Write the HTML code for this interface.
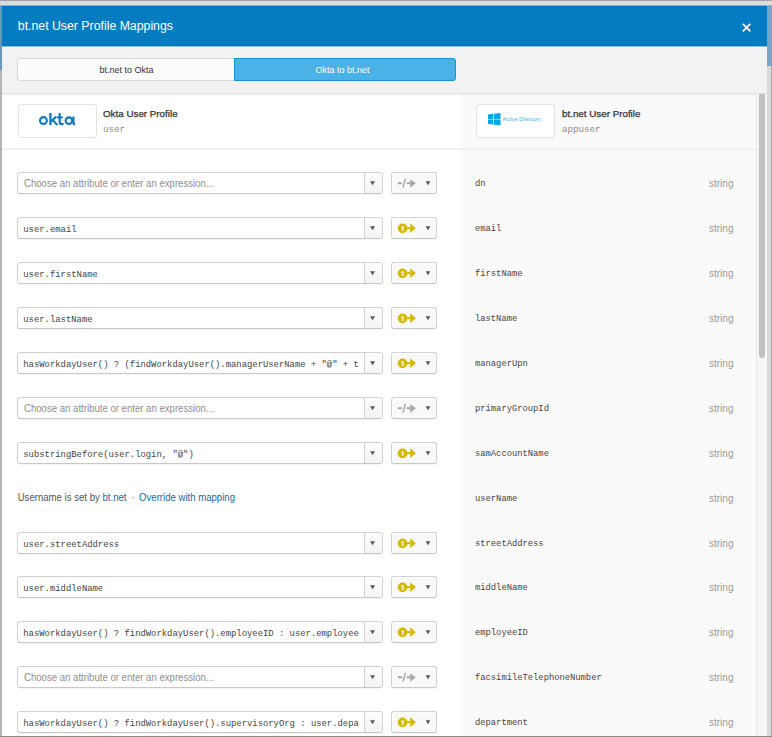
<!DOCTYPE html>
<html><head><meta charset="utf-8"><style>
*{margin:0;padding:0;box-sizing:border-box}
html,body{width:772px;height:737px;overflow:hidden}
body{position:relative;background:#d6d6d6;font-family:"Liberation Sans",sans-serif;}
.topstrip{position:absolute;left:0;top:0;width:772px;height:6px;background:#dcdcdc;border-top:1px solid #a4a4a4;border-bottom:1px solid #b4a9a1}
.lstrip{position:absolute;left:0;top:6px;width:2px;height:731px;background:linear-gradient(#6b98b8 0,#6b98b8 64px,#b4b4b4 64px)}
.rstrip{position:absolute;left:767px;top:6px;width:5px;height:731px;background:linear-gradient(#79a6c6 0,#79a6c6 60px,#d8d8d8 60px)}
.rstrip:after{content:"";position:absolute;right:0;top:60px;width:1px;bottom:0;background:#a8a8a8}
.bot{position:absolute;left:0;top:736px;width:772px;height:1px;background:#8a8a8a}
.modal{position:absolute;left:2px;top:6px;width:765px;height:730px;background:#fff;overflow:hidden}
.hdr{position:absolute;left:0;top:0;width:765px;height:40px;background:#047cc1;border-top:1px solid #0473ba;border-bottom:1px solid #0473ba}
.hl{position:absolute;left:0;top:40px;width:765px;height:2px;background:linear-gradient(#8fc3e3 0,#8fc3e3 1px,#fdfcfb 1px);z-index:3}
.title{position:absolute;left:15.8px;top:11px;color:#fff;font-size:12.3px;line-height:16px;white-space:nowrap}
.close{position:absolute;left:740px;top:16px}
.tabbar{position:absolute;z-index:2;left:0;top:40px;width:765px;height:48px;background:#f2f2f2;border-bottom:1px solid #dedede}
.tsh{position:absolute;z-index:2;left:0;top:88px;width:754px;height:2px;background:rgba(0,0,0,.022)}
.tab{position:absolute;top:12px;height:23px;font-size:9px;line-height:23px;text-align:center;white-space:nowrap}
.tab1{left:15px;width:218px;background:#fbfbfb;border:1px solid #d9d9d9;border-right:none;border-radius:3px 0 0 3px;color:#333}
.tab2{left:232px;width:222px;background:#4ab2e7;border:1px solid #1e8fd0;border-radius:0 3px 3px 0;color:#fff;padding-right:5px}
.rcol{position:absolute;left:459px;top:88px;width:295px;height:642px;background:#fafafa}
.sep{position:absolute;left:0;top:142px;width:754px;height:2px;background:#f0f0f0}
.sb{position:absolute;left:754px;top:89px;width:11px;height:641px;background:#f6f6f6;border-left:1px solid #e6e6e6}
.thumb{position:absolute;left:757px;top:84px;width:6px;height:268px;background:#c1c1c1;border-radius:3px}
.logo{position:absolute;top:98px;width:79px;height:34px;background:#fff;border:1px solid #e3e3e3;border-radius:3px}
.pname{position:absolute;top:101px;font-size:9.8px;color:#333;-webkit-text-stroke:0.25px #333;white-space:nowrap;line-height:14px}
.pvar{position:absolute;top:116.7px;font-family:"Liberation Mono",monospace;font-size:9.2px;color:#8a8a8a;line-height:14px}
.inp{position:absolute;left:15px;width:366px;height:22px;border:1px solid #d2d2d2;border-bottom-color:#c8c8c8;border-radius:3px;background:#fff;margin-top:-6px;box-shadow:0 1px 0 rgba(0,0,0,.04)}
.txt{position:absolute;left:5.3px;top:1px;width:336px;height:20px;line-height:20px;overflow:hidden;white-space:nowrap}
.ph{font-size:9.6px;color:#8e8e8e;padding-left:0.7px;transform:scaleY(1.07);transform-origin:0 13.33px}
.val{margin-top:1px;font-family:"Liberation Mono",monospace;font-size:8.9px;color:#444}
.dd{position:absolute;left:346px;top:0;width:18px;height:20px;border-left:1px solid #d2d2d2;border-radius:0 2px 2px 0;background:linear-gradient(#fdfdfd,#f3f3f3)}
.tri{position:absolute;width:0;height:0;border-left:2.5px solid transparent;border-right:2.5px solid transparent;border-top:3.8px solid #5e5e5e}
.dd .tri{left:6px;top:8.3px}
.push{position:absolute;left:389px;width:46px;height:22px;border:1px solid #d2d2d2;border-bottom-color:#c8c8c8;border-radius:3px;background:#f9f9f9;margin-top:-6px;box-shadow:inset 1px 1px 0 #fff,0 1px 0 rgba(0,0,0,.04)}
.push .ico{position:absolute;left:-1px;top:-1px}
.t2{left:33.7px;top:8.5px}
.attr{position:absolute;left:473px;margin-top:1px;font-family:"Liberation Mono",monospace;font-size:8.8px;color:#444;line-height:10px}
.typ{position:absolute;left:707px;margin-top:0px;font-size:10px;color:#9a9a9a;line-height:12px}
.uname{position:absolute;left:15.7px;margin-top:-0.5px;font-size:9.6px;color:#555;line-height:12px;white-space:nowrap;transform:scaleY(1.07);transform-origin:0 9.33px}
.uname a{color:#1a67a8}
.dot{color:#888;padding:0 2px}
</style></head><body>
<div class="topstrip"></div>
<div class="lstrip"></div>
<div class="rstrip"></div>
<div class="modal">
 <div class="hdr"><div class="title">bt.net User Profile Mappings</div>
  <svg class="close" width="10" height="10" viewBox="0 0 10 10"><path d="M0.8 0.8L8.3 8.3M8.3 0.8L0.8 8.3" stroke="#fff" stroke-width="1.7"/></svg>
 </div>
 <div class="hl"></div><div class="tsh"></div><div class="tabbar"><div class="tab tab1">bt.net to Okta</div><div class="tab tab2">Okta to bt.net</div></div>
 <div class="rcol"></div>
 <div class="sep"></div>
 <div class="logo" style="left:16px"><svg width="79" height="34" viewBox="18 104 79 34" style="position:absolute;left:-1px;top:-1px"><g fill="none" stroke="#0b79c1" stroke-width="2.1"><circle cx="43.45" cy="120.6" r="3.45"/><path d="M50.4 113V125.1" stroke-width="2.3"/><path d="M51 121.4L56.3 116.5M52.4 119.8L57.4 125.1"/><path d="M59.65 113V122Q59.65 124.1 61.8 124.1H63.6" stroke-width="2.2"/><path d="M57 117.4H63.1" stroke-width="1.8"/><circle cx="68.95" cy="120.65" r="3.3" stroke-width="2.2"/><path d="M73.45 116.4V123.1Q73.45 124.3 74.9 124.6" stroke-width="2.2"/></g></svg></div>
 <div class="pname" style="left:101px">Okta User Profile</div>
 <div class="pvar" style="left:101px">user</div>
 <div class="logo" style="left:474px"><svg width="79" height="34" viewBox="476 104 79 34" style="position:absolute;left:-1px;top:-1px"><path d="M488 114.4L493.2 113.8V118.9H488z M493.9 113.7L500.5 113V118.9H493.9z M488 119.6H493.2V124.6L488 124z M493.9 119.6H500.5V125.3L493.9 124.7z" fill="#08a5e8"/><text x="502.6" y="121.3" font-family="Liberation Sans" font-size="5.5" fill="#3db5ea">Active Directory</text></svg></div>
 <div class="pname" style="left:560px">bt.net User Profile</div>
 <div class="pvar" style="left:560px">appuser</div>
 <div class="body">
<div class="inp" style="top:172.0px"><div class="txt ph">Choose an attribute or enter an expression...</div><div class="dd"><svg width="18" height="20" style="position:absolute;left:-1px;top:0"><path d="M6 8.2H11L8.5 12.3z" fill="#585858"/></svg></div></div>
<div class="push" style="top:172.0px"><svg class="ico" width="46" height="22" viewBox="0 0 46 22"><g fill="#a9a9a9"><rect x="6.7" y="10.2" width="4.2" height="2"/><rect x="15.6" y="10.2" width="4" height="2"/><path d="M19.2 7.2L24.9 11.3L19.2 15.8z"/></g><path d="M14.4 6.9L11.9 15.6" stroke="#a9a9a9" stroke-width="1.5"/><path d="M34.6 9.2H39.4L37 13.3z" fill="#585858"/></svg></div>
<div class="attr" style="top:172.0px">dn</div><div class="typ" style="top:172.0px">string</div>
<div class="inp" style="top:216.94px"><div class="txt val">user.email</div><div class="dd"><svg width="18" height="20" style="position:absolute;left:-1px;top:0"><path d="M6 8.2H11L8.5 12.3z" fill="#585858"/></svg></div></div>
<div class="push" style="top:216.94px"><svg class="ico" width="46" height="22" viewBox="0 0 46 22"><g fill="#d5b800"><circle cx="11.55" cy="11.35" r="4.85"/><rect x="15.5" y="10.1" width="4.1" height="2"/><path d="M19.2 6.2L24.9 11.2L19.2 16z"/></g><path d="M11.25 14.05V9.35H12.55V14.05z M10.05 10.75L11.25 9.35V10.55L10.25 11.35z" fill="#fff"/><path d="M34.6 9.2H39.4L37 13.3z" fill="#585858"/></svg></div>
<div class="attr" style="top:216.94px">email</div><div class="typ" style="top:216.94px">string</div>
<div class="inp" style="top:261.88px"><div class="txt val">user.firstName</div><div class="dd"><svg width="18" height="20" style="position:absolute;left:-1px;top:0"><path d="M6 8.2H11L8.5 12.3z" fill="#585858"/></svg></div></div>
<div class="push" style="top:261.88px"><svg class="ico" width="46" height="22" viewBox="0 0 46 22"><g fill="#d5b800"><circle cx="11.55" cy="11.35" r="4.85"/><rect x="15.5" y="10.1" width="4.1" height="2"/><path d="M19.2 6.2L24.9 11.2L19.2 16z"/></g><path d="M11.25 14.05V9.35H12.55V14.05z M10.05 10.75L11.25 9.35V10.55L10.25 11.35z" fill="#fff"/><path d="M34.6 9.2H39.4L37 13.3z" fill="#585858"/></svg></div>
<div class="attr" style="top:261.88px">firstName</div><div class="typ" style="top:261.88px">string</div>
<div class="inp" style="top:306.82px"><div class="txt val">user.lastName</div><div class="dd"><svg width="18" height="20" style="position:absolute;left:-1px;top:0"><path d="M6 8.2H11L8.5 12.3z" fill="#585858"/></svg></div></div>
<div class="push" style="top:306.82px"><svg class="ico" width="46" height="22" viewBox="0 0 46 22"><g fill="#d5b800"><circle cx="11.55" cy="11.35" r="4.85"/><rect x="15.5" y="10.1" width="4.1" height="2"/><path d="M19.2 6.2L24.9 11.2L19.2 16z"/></g><path d="M11.25 14.05V9.35H12.55V14.05z M10.05 10.75L11.25 9.35V10.55L10.25 11.35z" fill="#fff"/><path d="M34.6 9.2H39.4L37 13.3z" fill="#585858"/></svg></div>
<div class="attr" style="top:306.82px">lastName</div><div class="typ" style="top:306.82px">string</div>
<div class="inp" style="top:351.76px"><div class="txt val">hasWorkdayUser() ? (findWorkdayUser().managerUserName + &quot;@&quot; + tenant</div><div class="dd"><svg width="18" height="20" style="position:absolute;left:-1px;top:0"><path d="M6 8.2H11L8.5 12.3z" fill="#585858"/></svg></div></div>
<div class="push" style="top:351.76px"><svg class="ico" width="46" height="22" viewBox="0 0 46 22"><g fill="#d5b800"><circle cx="11.55" cy="11.35" r="4.85"/><rect x="15.5" y="10.1" width="4.1" height="2"/><path d="M19.2 6.2L24.9 11.2L19.2 16z"/></g><path d="M11.25 14.05V9.35H12.55V14.05z M10.05 10.75L11.25 9.35V10.55L10.25 11.35z" fill="#fff"/><path d="M34.6 9.2H39.4L37 13.3z" fill="#585858"/></svg></div>
<div class="attr" style="top:351.76px">managerUpn</div><div class="typ" style="top:351.76px">string</div>
<div class="inp" style="top:396.7px"><div class="txt ph">Choose an attribute or enter an expression...</div><div class="dd"><svg width="18" height="20" style="position:absolute;left:-1px;top:0"><path d="M6 8.2H11L8.5 12.3z" fill="#585858"/></svg></div></div>
<div class="push" style="top:396.7px"><svg class="ico" width="46" height="22" viewBox="0 0 46 22"><g fill="#a9a9a9"><rect x="6.7" y="10.2" width="4.2" height="2"/><rect x="15.6" y="10.2" width="4" height="2"/><path d="M19.2 7.2L24.9 11.3L19.2 15.8z"/></g><path d="M14.4 6.9L11.9 15.6" stroke="#a9a9a9" stroke-width="1.5"/><path d="M34.6 9.2H39.4L37 13.3z" fill="#585858"/></svg></div>
<div class="attr" style="top:396.7px">primaryGroupId</div><div class="typ" style="top:396.7px">string</div>
<div class="inp" style="top:441.64px"><div class="txt val">substringBefore(user.login, &quot;@&quot;)</div><div class="dd"><svg width="18" height="20" style="position:absolute;left:-1px;top:0"><path d="M6 8.2H11L8.5 12.3z" fill="#585858"/></svg></div></div>
<div class="push" style="top:441.64px"><svg class="ico" width="46" height="22" viewBox="0 0 46 22"><g fill="#d5b800"><circle cx="11.55" cy="11.35" r="4.85"/><rect x="15.5" y="10.1" width="4.1" height="2"/><path d="M19.2 6.2L24.9 11.2L19.2 16z"/></g><path d="M11.25 14.05V9.35H12.55V14.05z M10.05 10.75L11.25 9.35V10.55L10.25 11.35z" fill="#fff"/><path d="M34.6 9.2H39.4L37 13.3z" fill="#585858"/></svg></div>
<div class="attr" style="top:441.64px">samAccountName</div><div class="typ" style="top:441.64px">string</div>
<div class="uname" style="top:486.58px">Username is set by <a>bt.net</a> <span class="dot">&middot;</span> <a>Override with mapping</a></div>
<div class="attr" style="top:486.58px">userName</div><div class="typ" style="top:486.58px">string</div>
<div class="inp" style="top:531.52px"><div class="txt val">user.streetAddress</div><div class="dd"><svg width="18" height="20" style="position:absolute;left:-1px;top:0"><path d="M6 8.2H11L8.5 12.3z" fill="#585858"/></svg></div></div>
<div class="push" style="top:531.52px"><svg class="ico" width="46" height="22" viewBox="0 0 46 22"><g fill="#d5b800"><circle cx="11.55" cy="11.35" r="4.85"/><rect x="15.5" y="10.1" width="4.1" height="2"/><path d="M19.2 6.2L24.9 11.2L19.2 16z"/></g><path d="M11.25 14.05V9.35H12.55V14.05z M10.05 10.75L11.25 9.35V10.55L10.25 11.35z" fill="#fff"/><path d="M34.6 9.2H39.4L37 13.3z" fill="#585858"/></svg></div>
<div class="attr" style="top:531.52px">streetAddress</div><div class="typ" style="top:531.52px">string</div>
<div class="inp" style="top:576.46px"><div class="txt val">user.middleName</div><div class="dd"><svg width="18" height="20" style="position:absolute;left:-1px;top:0"><path d="M6 8.2H11L8.5 12.3z" fill="#585858"/></svg></div></div>
<div class="push" style="top:576.46px"><svg class="ico" width="46" height="22" viewBox="0 0 46 22"><g fill="#d5b800"><circle cx="11.55" cy="11.35" r="4.85"/><rect x="15.5" y="10.1" width="4.1" height="2"/><path d="M19.2 6.2L24.9 11.2L19.2 16z"/></g><path d="M11.25 14.05V9.35H12.55V14.05z M10.05 10.75L11.25 9.35V10.55L10.25 11.35z" fill="#fff"/><path d="M34.6 9.2H39.4L37 13.3z" fill="#585858"/></svg></div>
<div class="attr" style="top:576.46px">middleName</div><div class="typ" style="top:576.46px">string</div>
<div class="inp" style="top:621.4px"><div class="txt val">hasWorkdayUser() ? findWorkdayUser().employeeID : user.employeeNumber</div><div class="dd"><svg width="18" height="20" style="position:absolute;left:-1px;top:0"><path d="M6 8.2H11L8.5 12.3z" fill="#585858"/></svg></div></div>
<div class="push" style="top:621.4px"><svg class="ico" width="46" height="22" viewBox="0 0 46 22"><g fill="#d5b800"><circle cx="11.55" cy="11.35" r="4.85"/><rect x="15.5" y="10.1" width="4.1" height="2"/><path d="M19.2 6.2L24.9 11.2L19.2 16z"/></g><path d="M11.25 14.05V9.35H12.55V14.05z M10.05 10.75L11.25 9.35V10.55L10.25 11.35z" fill="#fff"/><path d="M34.6 9.2H39.4L37 13.3z" fill="#585858"/></svg></div>
<div class="attr" style="top:621.4px">employeeID</div><div class="typ" style="top:621.4px">string</div>
<div class="inp" style="top:666.34px"><div class="txt ph">Choose an attribute or enter an expression...</div><div class="dd"><svg width="18" height="20" style="position:absolute;left:-1px;top:0"><path d="M6 8.2H11L8.5 12.3z" fill="#585858"/></svg></div></div>
<div class="push" style="top:666.34px"><svg class="ico" width="46" height="22" viewBox="0 0 46 22"><g fill="#a9a9a9"><rect x="6.7" y="10.2" width="4.2" height="2"/><rect x="15.6" y="10.2" width="4" height="2"/><path d="M19.2 7.2L24.9 11.3L19.2 15.8z"/></g><path d="M14.4 6.9L11.9 15.6" stroke="#a9a9a9" stroke-width="1.5"/><path d="M34.6 9.2H39.4L37 13.3z" fill="#585858"/></svg></div>
<div class="attr" style="top:666.34px">facsimileTelephoneNumber</div><div class="typ" style="top:666.34px">string</div>
<div class="inp" style="top:711.28px"><div class="txt val">hasWorkdayUser() ? findWorkdayUser().supervisoryOrg : user.department</div><div class="dd"><svg width="18" height="20" style="position:absolute;left:-1px;top:0"><path d="M6 8.2H11L8.5 12.3z" fill="#585858"/></svg></div></div>
<div class="push" style="top:711.28px"><svg class="ico" width="46" height="22" viewBox="0 0 46 22"><g fill="#d5b800"><circle cx="11.55" cy="11.35" r="4.85"/><rect x="15.5" y="10.1" width="4.1" height="2"/><path d="M19.2 6.2L24.9 11.2L19.2 16z"/></g><path d="M11.25 14.05V9.35H12.55V14.05z M10.05 10.75L11.25 9.35V10.55L10.25 11.35z" fill="#fff"/><path d="M34.6 9.2H39.4L37 13.3z" fill="#585858"/></svg></div>
<div class="attr" style="top:711.28px">department</div><div class="typ" style="top:711.28px">string</div>
 </div>
 <div class="sb"></div>
 <div class="thumb"></div>
</div>
<div class="bot"></div>
</body></html>
